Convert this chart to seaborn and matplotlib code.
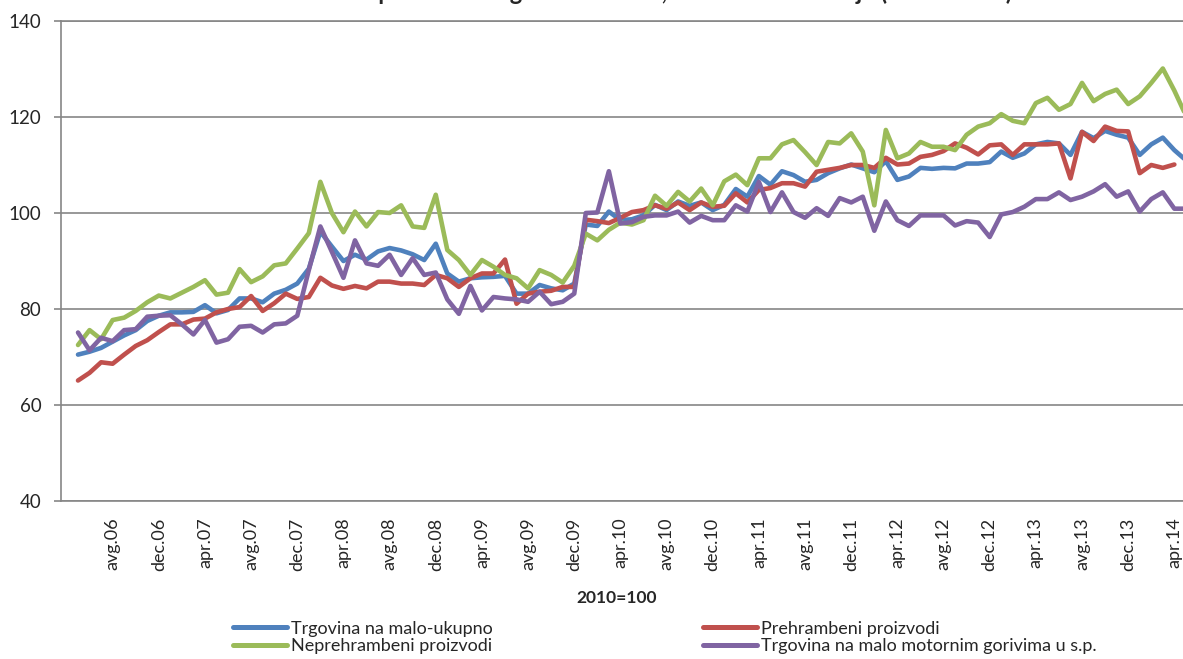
import numpy as np
import pandas as pd
import seaborn as sns
import matplotlib.pyplot as plt
from matplotlib.lines import Line2D

# mjesecni indeksi, maj.06 - maj.14 (pozicija 0 = apr.06, prazna kategorija)
ukupno = [70.5, 71.1, 71.9, 73.2, 74.5, 75.6, 77.5, 78.6, 79.3, 79.3, 79.4, 80.8,
          79.1, 79.8, 82.2, 82.2, 81.4, 83.2, 84.0, 85.3, 88.4, 96.1, 93.0, 90.0,
          91.3, 90.3, 92.0, 92.7, 92.2, 91.4, 90.2, 93.6, 87.4, 85.7, 86.4, 86.6,
          86.7, 86.9, 83.2, 83.2, 85.0, 84.3, 83.9, 85.3, 97.6, 97.3, 100.3, 98.5,
          98.7, 99.5, 101.7, 100.6, 102.4, 101.5, 102.2, 100.6, 101.7, 105.0, 103.4, 107.7,
          105.9, 108.7, 107.9, 106.5, 106.9, 108.3, 109.3, 110.1, 109.3, 108.5, 110.8, 106.9,
          107.6, 109.4, 109.2, 109.4, 109.3, 110.3, 110.3, 110.6, 112.8, 111.5, 112.4, 114.3,
          114.8, 114.5, 112.1, 116.9, 115.6, 117.1, 116.3, 115.7, 112.1, 114.3, 115.7, 113.1,
          111.0]

prehrambeni = [65.1, 66.7, 68.9, 68.6, 70.5, 72.3, 73.5, 75.2, 76.8, 76.8, 77.8, 78.0,
               79.3, 80.0, 80.4, 82.7, 79.6, 81.2, 83.2, 82.1, 82.5, 86.5, 84.9, 84.2,
               84.8, 84.3, 85.7, 85.7, 85.3, 85.3, 85.0, 87.1, 86.4, 84.6, 86.4, 87.4,
               87.4, 90.3, 81.1, 83.2, 83.6, 83.8, 84.6, 84.6, 98.6, 98.3, 97.9, 99.0,
               100.2, 100.6, 101.6, 100.9, 102.2, 100.6, 102.2, 101.3, 101.5, 104.1, 102.2, 104.8,
               105.2, 106.2, 106.2, 105.5, 108.6, 109.0, 109.4, 110.0, 110.0, 109.4, 111.5, 110.1,
               110.3, 111.7, 112.1, 112.9, 114.5, 113.6, 112.2, 114.1, 114.3, 112.1, 114.3, 114.3,
               114.3, 114.5, 107.2, 116.9, 115.0, 118.0, 117.1, 117.0, 108.3, 110.0, 109.4, 110.1,
               np.nan]

neprehrambeni = [72.5, 75.6, 73.7, 77.7, 78.2, 79.6, 81.4, 82.8, 82.2, 83.4, 84.6, 86.0,
                 83.0, 83.4, 88.3, 85.6, 86.8, 89.1, 89.5, 92.6, 95.8, 106.5, 100.0, 96.0,
                 100.3, 97.2, 100.2, 100.0, 101.6, 97.2, 96.9, 103.8, 92.3, 90.2, 87.1, 90.2,
                 88.8, 87.1, 86.4, 84.3, 88.1, 87.1, 85.5, 89.0, 95.7, 94.3, 96.5, 98.0,
                 97.6, 98.5, 103.6, 101.5, 104.4, 102.4, 105.1, 101.6, 106.6, 108.0, 105.8, 111.4,
                 111.4, 114.3, 115.2, 112.7, 110.0, 114.8, 114.5, 116.6, 112.8, 101.6, 117.3, 111.4,
                 112.4, 114.8, 113.8, 113.8, 113.1, 116.3, 118.0, 118.7, 120.6, 119.2, 118.7, 122.9,
                 124.0, 121.5, 122.7, 127.1, 123.3, 124.8, 125.7, 122.7, 124.3, 127.1, 130.1, 125.5,
                 120.3]

gorivo = [75.1, 71.4, 74.0, 73.3, 75.6, 75.8, 78.4, 78.6, 78.7, 76.8, 74.7, 77.7,
          73.0, 73.7, 76.3, 76.5, 75.1, 76.8, 77.0, 78.6, 88.1, 97.2, 91.9, 86.5,
          94.3, 89.5, 89.0, 91.3, 87.1, 90.6, 87.1, 87.6, 82.0, 79.0, 84.8, 79.7,
          82.5, 82.2, 82.0, 81.5, 83.6, 81.0, 81.5, 83.2, 100.0, 100.1, 108.7, 97.8,
          98.1, 99.2, 99.5, 99.5, 100.3, 98.0, 99.4, 98.5, 98.5, 101.6, 100.3, 106.5,
          100.2, 104.3, 100.2, 99.0, 101.0, 99.4, 103.1, 102.2, 103.4, 96.3, 102.4, 98.5,
          97.3, 99.5, 99.5, 99.5, 97.4, 98.3, 98.0, 95.0, 99.7, 100.2, 101.3, 102.9,
          102.9, 104.3, 102.7, 103.4, 104.5, 106.0, 103.4, 104.5, 100.3, 102.9, 104.3, 100.9,
          100.9]

tick_labels = ['avg.06', 'dec.06', 'apr.07', 'avg.07', 'dec.07', 'apr.08', 'avg.08', 'dec.08',
               'apr.09', 'avg.09', 'dec.09', 'apr.10', 'avg.10', 'dec.10', 'apr.11', 'avg.11',
               'dec.11', 'apr.12', 'avg.12', 'dec.12', 'apr.13', 'avg.13', 'dec.13', 'apr.14']

serije = {
    'Trgovina na malo-ukupno': ukupno,
    'Prehrambeni proizvodi': prehrambeni,
    'Neprehrambeni proizvodi': neprehrambeni,
    'Trgovina na malo motornim gorivima u s.p.': gorivo,
}
boje = ['#4F81BD', '#C0504D', '#9BBB59', '#8064A2']

wide = pd.DataFrame(serije)
wide['mjesec'] = np.arange(1, len(wide) + 1)
df = wide.melt(id_vars='mjesec', var_name='serija', value_name='indeks').dropna()

sns.set_style('white')
plt.rcParams['font.family'] = ['Lato', 'DejaVu Sans']

W, H = 1183, 659
fig = plt.figure(figsize=(W / 100, H / 100), dpi=100)
ax = fig.add_axes([60.7 / W, 1 - 501 / H, 1 - 60.7 / W, 480 / H])

sns.lineplot(data=df, x='mjesec', y='indeks', hue='serija', palette=boje,
             hue_order=list(serije.keys()), linewidth=3.3, legend=False, ax=ax,
             solid_joinstyle='round', solid_capstyle='round')

grey = '#868686'
ax.set_ylim(40, 140)
ax.set_xlim(-0.5, 96.75)
ax.set_yticks(np.arange(40, 141, 20))
ax.yaxis.grid(True, color=grey, linewidth=1.2)
ax.set_axisbelow(True)
for side in ['left', 'bottom', 'top']:
    ax.spines[side].set_color(grey)
    ax.spines[side].set_linewidth(1.2)
ax.spines['right'].set_visible(False)

ax.set_xticks(np.arange(4, 97, 4))
ax.set_xticklabels(tick_labels, rotation=90, fontsize=13)
ax.set_xticks(np.arange(-0.5, 97.5, 1), minor=True)
ax.tick_params(axis='x', which='major', length=0, pad=12)
ax.tick_params(axis='x', which='minor', length=5, width=1.2, color=grey, direction='out')
ax.tick_params(axis='y', length=5, width=1.2, color=grey, pad=9, labelsize=13.5, left=True)
ax.set_xlabel('')
ax.set_ylabel('')

fig.text(617 / W, 1 - 598 / H, '2010=100', ha='center', va='center',
         fontsize=12.5, fontweight='bold')
# naslov je u originalu odsjecen na vrhu, vide se samo repovi slova
fig.text(655 / W, 1.0, 'Indeksi prometa u trgovini na malo, desezonirane serije (2006-2014)',
         ha='center', va='baseline', fontsize=17, fontweight='bold')

naziv = list(serije.keys())
handles = [Line2D([], [], color=c, linewidth=3.6, solid_capstyle='round') for c in boje]
leg_kw = dict(frameon=False, fontsize=13, handlelength=3.0, handletextpad=0.2,
              labelspacing=0.1, borderpad=0, borderaxespad=0, loc='center left')
fig.legend([handles[0], handles[2]], [naziv[0], naziv[2]],
           bbox_to_anchor=(233 / W, 1 - 637.5 / H), **leg_kw)
fig.legend([handles[1], handles[3]], [naziv[1], naziv[3]],
           bbox_to_anchor=(703 / W, 1 - 637.5 / H), **leg_kw)

fig.savefig('out.png', dpi=100)
